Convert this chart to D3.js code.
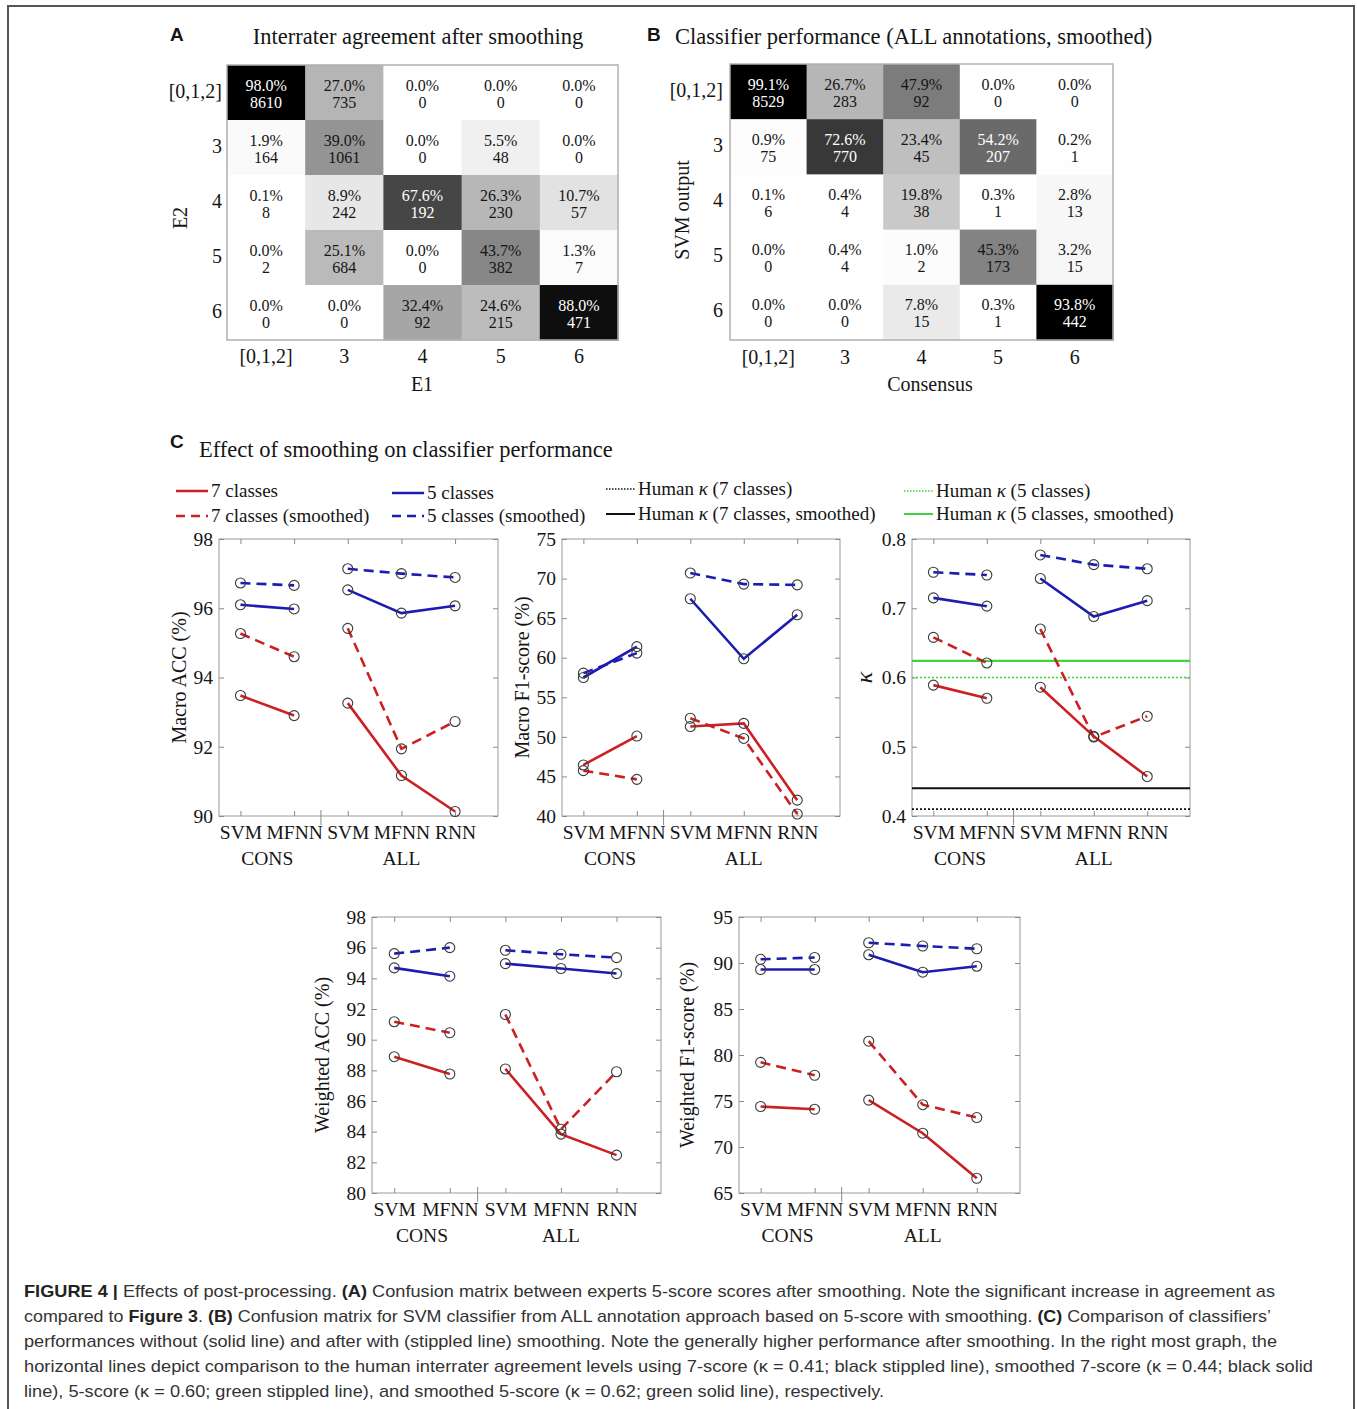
<!DOCTYPE html>
<html><head><meta charset="utf-8">
<script src="https://cdn.jsdelivr.net/npm/d3@7"></script>
<style>
body{margin:0;background:#fff}
svg{display:block}
text{font-family:"Liberation Serif","Times New Roman",serif;fill:#151515}
</style>
</head><body>
<svg id="fig" width="1357" height="1409"></svg>
<script>
// ---------------- DATA ----------------
const matCats = ["[0,1,2]", "3", "4", "5", "6"];
const matAPct = [
  [98.0, 27.0, 0.0, 0.0, 0.0],
  [1.9, 39.0, 0.0, 5.5, 0.0],
  [0.1, 8.9, 67.6, 26.3, 10.7],
  [0.0, 25.1, 0.0, 43.7, 1.3],
  [0.0, 0.0, 32.4, 24.6, 88.0]
];
const matACount = [
  [8610, 735, 0, 0, 0],
  [164, 1061, 0, 48, 0],
  [8, 242, 192, 230, 57],
  [2, 684, 0, 382, 7],
  [0, 0, 92, 215, 471]
];
const matBPct = [
  [99.1, 26.7, 47.9, 0.0, 0.0],
  [0.9, 72.6, 23.4, 54.2, 0.2],
  [0.1, 0.4, 19.8, 0.3, 2.8],
  [0.0, 0.4, 1.0, 45.3, 3.2],
  [0.0, 0.0, 7.8, 0.3, 93.8]
];
const matBCount = [
  [8529, 283, 92, 0, 0],
  [75, 770, 45, 207, 1],
  [6, 4, 38, 1, 13],
  [0, 4, 2, 173, 15],
  [0, 0, 15, 1, 442]
];

const classifiers = ["SVM", "MFNN", "SVM", "MFNN", "RNN"];
const groupNames = ["CONS", "ALL"];
const groupIdx = [[0, 1], [2, 3, 4]];

const macroAcc7  = [93.48, 92.90, 93.26, 91.17, 90.13];
const macroAcc7s = [95.27, 94.60, 95.42, 91.94, 92.73];
const macroAcc5  = [96.10, 95.98, 96.53, 95.86, 96.07];
const macroAcc5s = [96.73, 96.66, 97.14, 97.00, 96.89];
const macroAccTicks = [90, 92, 94, 96, 98];

const macroF1_7  = [46.45, 50.10, 51.30, 51.70, 42.00];
const macroF1_7s = [45.73, 44.63, 52.35, 49.80, 40.25];
const macroF1_5  = [57.50, 61.40, 67.45, 59.86, 65.43];
const macroF1_5s = [58.05, 60.58, 70.70, 69.30, 69.20];
const macroF1Ticks = [40, 45, 50, 55, 60, 65, 70, 75];

const kappa7  = [0.589, 0.570, 0.586, 0.515, 0.457];
const kappa7s = [0.658, 0.621, 0.670, 0.514, 0.544];
const kappa5  = [0.715, 0.703, 0.743, 0.688, 0.711];
const kappa5s = [0.752, 0.748, 0.777, 0.763, 0.757];
const kappaTicks = [0.4, 0.5, 0.6, 0.7, 0.8];
const humanKappa = [0.41, 0.44, 0.60, 0.624]; // 7cl, 7cl smoothed, 5cl, 5cl smoothed

const wAcc7  = [88.89, 87.76, 88.09, 83.84, 82.47];
const wAcc7s = [91.17, 90.45, 91.64, 84.16, 87.91];
const wAcc5  = [94.68, 94.14, 94.96, 94.64, 94.31];
const wAcc5s = [95.61, 96.00, 95.83, 95.57, 95.35];
const wAccTicks = [80, 82, 84, 86, 88, 90, 92, 94, 96, 98];

const wF1_7  = [74.4, 74.1, 75.1, 71.5, 66.6];
const wF1_7s = [79.2, 77.8, 81.5, 74.6, 73.2];
const wF1_5  = [89.29, 89.29, 90.90, 89.00, 89.65];
const wF1_5s = [90.40, 90.60, 92.20, 91.85, 91.55];
const wF1Ticks = [65, 70, 75, 80, 85, 90, 95];

const captionLines = [
  "**FIGURE 4 |** Effects of post-processing. **(A)** Confusion matrix between experts 5-score scores after smoothing. Note the significant increase in agreement as",
  "compared to **Figure 3**. **(B)** Confusion matrix for SVM classifier from ALL annotation approach based on 5-score with smoothing. **(C)** Comparison of classifiers\u2019",
  "performances without (solid line) and after with (stippled line) smoothing. Note the generally higher performance after smoothing. In the right most graph, the",
  "horizontal lines depict comparison to the human interrater agreement levels using 7-score (\u03ba = 0.41; black stippled line), smoothed 7-score (\u03ba = 0.44; black solid",
  "line), 5-score (\u03ba = 0.60; green stippled line), and smoothed 5-score (\u03ba = 0.62; green solid line), respectively."
];

// ---------------- STYLE ----------------
const RED = "#cc2024";
const BLUE = "#1c1cb2";
const GREEN = "#3fd43f";
const SERIF = '"Liberation Serif","Times New Roman",serif';
const SANS = '"Liberation Sans",Arial,Helvetica,sans-serif';

const svg = d3.select("#fig");

// figure frame
svg.append("rect").attr("x", 8).attr("y", 6).attr("width", 1346).attr("height", 1440)
  .attr("fill", "none").attr("stroke", "#555").attr("stroke-width", 2);

function panelLetter(t, x, y) {
  svg.append("text").attr("x", x).attr("y", y).text(t)
    .style("font-family", SANS).style("font-weight", "bold").style("font-size", "19px");
}
function serifText(t, x, y, size, anchor) {
  return svg.append("text").attr("x", x).attr("y", y).text(t)
    .style("font-size", size + "px").attr("text-anchor", anchor || "start");
}

// ---------------- CONFUSION MATRICES ----------------
const shade = d3.scaleLinear().domain([0, 93]).range(["#ffffff", "#000000"]).clamp(true);

function drawMatrix(pct, cnt, x0, x1, y0, y1, rowLabelX, colLabelY, xTitle, xTitlePos, yTitle, yTitlePos) {
  const x = d3.scaleBand().domain(d3.range(5)).range([x0, x1]);
  const y = d3.scaleBand().domain(d3.range(5)).range([y0, y1]);
  const g = svg.append("g");
  const cells = [];
  pct.forEach((row, r) => row.forEach((p, c) => cells.push({ r, c, p, n: cnt[r][c] })));
  g.selectAll("rect.cell").data(cells).join("rect").attr("class", "cell")
    .attr("x", d => x(d.c)).attr("y", d => y(d.r))
    .attr("width", x.bandwidth() + 0.5).attr("height", y.bandwidth() + 0.5)
    .attr("fill", d => shade(d.p));
  g.append("rect").attr("x", x0).attr("y", y0).attr("width", x1 - x0).attr("height", y1 - y0)
    .attr("fill", "none").attr("stroke", "#b0b0b0").attr("stroke-width", 1.5);
  g.selectAll("text.pct").data(cells).join("text").attr("class", "pct")
    .attr("x", d => x(d.c) + x.bandwidth() / 2).attr("y", d => y(d.r) + y.bandwidth() / 2 - 2)
    .attr("text-anchor", "middle").style("font-size", "16px")
    .style("fill", d => d.p > 50 ? "#fff" : "#151515")
    .text(d => d.p.toFixed(1) + "%");
  g.selectAll("text.cnt").data(cells).join("text").attr("class", "cnt")
    .attr("x", d => x(d.c) + x.bandwidth() / 2).attr("y", d => y(d.r) + y.bandwidth() / 2 + 15)
    .attr("text-anchor", "middle").style("font-size", "16px")
    .style("fill", d => d.p > 50 ? "#fff" : "#151515")
    .text(d => d.n);
  g.selectAll("text.rl").data(matCats).join("text").attr("class", "rl")
    .attr("x", rowLabelX).attr("y", (d, i) => y(i) + y.bandwidth() / 2 + 5)
    .attr("text-anchor", "end").style("font-size", "20px").text(d => d);
  g.selectAll("text.cl").data(matCats).join("text").attr("class", "cl")
    .attr("x", (d, i) => x(i) + x.bandwidth() / 2).attr("y", colLabelY)
    .attr("text-anchor", "middle").style("font-size", "20px").text(d => d);
  serifText(xTitle, xTitlePos[0], xTitlePos[1], 20, "middle");
  svg.append("text").attr("transform", `translate(${yTitlePos[0]},${yTitlePos[1]}) rotate(-90)`)
    .attr("text-anchor", "middle").style("font-size", "20px").text(yTitle);
}

panelLetter("A", 170, 41);
serifText("Interrater agreement after smoothing", 418, 44, 22.5, "middle");
drawMatrix(matAPct, matACount, 227, 618, 65, 340, 222, 363, "E1", [422, 391], "E2", [187, 218]);

panelLetter("B", 647, 41);
serifText("Classifier performance (ALL annotations, smoothed)", 675, 44, 22.5, "start");
drawMatrix(matBPct, matBCount, 730, 1113, 64, 340, 723, 364, "Consensus", [930, 391], "SVM output", [689, 210]);

// ---------------- PANEL C ----------------
panelLetter("C", 170, 448);
serifText("Effect of smoothing on classifier performance", 199, 457, 22.5, "start");

// legend
const legendItems = [
  { t: "7 classes", c: RED, dash: null, w: 2.5, x: 176, y: 491 },
  { t: "7 classes (smoothed)", c: RED, dash: "9,6", w: 2.5, x: 176, y: 516 },
  { t: "5 classes", c: BLUE, dash: null, w: 2.5, x: 392, y: 493 },
  { t: "5 classes (smoothed)", c: BLUE, dash: "9,6", w: 2.5, x: 392, y: 516 },
  { t: "Human \u03ba (7 classes)", c: "#111", dash: "1.5,1.5", w: 1.3, x: 606, y: 489 },
  { t: "Human \u03ba (7 classes, smoothed)", c: "#111", dash: null, w: 2, x: 606, y: 514 },
  { t: "Human \u03ba (5 classes)", c: GREEN, dash: "1.5,1.5", w: 1.3, x: 904, y: 491 },
  { t: "Human \u03ba (5 classes, smoothed)", c: GREEN, dash: null, w: 2, x: 904, y: 514 }
];
legendItems.forEach(d => {
  const len = d.x < 600 ? 32 : 29;
  svg.append("line").attr("x1", d.x).attr("x2", d.x + len).attr("y1", d.y).attr("y2", d.y)
    .attr("stroke", d.c).attr("stroke-width", d.w).attr("stroke-dasharray", d.dash);
  const t = svg.append("text").attr("x", d.x + len + 3).attr("y", d.y + 6).style("font-size", "19px");
  const parts = d.t.split("\u03ba");
  t.append("tspan").text(parts[0]);
  if (parts.length > 1) {
    t.append("tspan").style("font-style", "italic").text("\u03ba");
    t.append("tspan").text(parts[1]);
  }
});

function linePlot(box, yDomain, ticks, fmt, yLabel, yLabelX, series, hlines, italicLabel) {
  const x = d3.scaleLinear().domain([0.6, 5.8]).range([box.x0, box.x1]);
  const y = d3.scaleLinear().domain(yDomain).range([box.y1, box.y0]);
  const g = svg.append("g");
  const styleAxis = sel => {
    sel.select(".domain").remove();
    sel.selectAll(".tick line").attr("stroke", "#8a8a8a");
    sel.selectAll(".tick text").style("font-family", SERIF).style("font-size", "19.5px").style("fill", "#151515");
  };
  g.append("rect").attr("x", box.x0).attr("y", box.y0).attr("width", box.x1 - box.x0).attr("height", box.y1 - box.y0)
    .attr("fill", "none").attr("stroke", "#9a9a9a").attr("stroke-width", 1);
  g.append("g").attr("transform", `translate(0,${box.y1})`)
    .call(d3.axisBottom(x).tickValues([1, 2, 3, 4, 5]).tickSize(-5).tickPadding(9).tickFormat((d, i) => classifiers[i]))
    .call(styleAxis);
  g.append("g").attr("transform", `translate(0,${box.y0})`)
    .call(d3.axisTop(x).tickValues([1, 2, 3, 4, 5]).tickSize(-5).tickFormat(""))
    .call(styleAxis);
  g.append("g").attr("transform", `translate(${box.x0},0)`)
    .call(d3.axisLeft(y).tickValues(ticks).tickSize(-5).tickPadding(6).tickFormat(fmt))
    .call(styleAxis);
  g.append("g").attr("transform", `translate(${box.x1},0)`)
    .call(d3.axisRight(y).tickValues(ticks).tickSize(-5).tickFormat(""))
    .call(styleAxis);
  // group separator
  g.append("line").attr("x1", x(2.5)).attr("x2", x(2.5)).attr("y1", box.y1 - 6).attr("y2", box.y1 + 9)
    .attr("stroke", "#8a8a8a").attr("stroke-width", 1);
  // group labels
  g.append("text").attr("x", x(1.5)).attr("y", box.y1 + 49).attr("text-anchor", "middle")
    .style("font-size", "19.5px").text(groupNames[0]);
  g.append("text").attr("x", x(4)).attr("y", box.y1 + 49).attr("text-anchor", "middle")
    .style("font-size", "19.5px").text(groupNames[1]);
  // y label
  const yl = g.append("text").attr("transform", `translate(${yLabelX},${(box.y0 + box.y1) / 2}) rotate(-90)`)
    .attr("text-anchor", "middle").attr("dominant-baseline", "middle").style("font-size", "20px").text(yLabel);
  if (italicLabel) yl.style("font-style", "italic").style("font-size", "24px");
  // horizontal lines
  (hlines || []).forEach(h => {
    g.append("line").attr("x1", box.x0).attr("x2", box.x1).attr("y1", y(h.v)).attr("y2", y(h.v))
      .attr("stroke", h.c).attr("stroke-width", h.w).attr("stroke-dasharray", h.dash);
  });
  // series lines
  const line = d3.line().x(d => x(d.i + 1)).y(d => y(d.v));
  series.forEach(s => {
    groupIdx.forEach(idx => {
      g.append("path").datum(idx.map(i => ({ i, v: s.values[i] })))
        .attr("d", line).attr("fill", "none").attr("stroke", s.c).attr("stroke-width", 2.6)
        .attr("stroke-dasharray", s.dash);
    });
  });
  series.forEach(s => {
    g.selectAll(null).data(s.values.map((v, i) => ({ v, i }))).join("circle")
      .attr("cx", d => x(d.i + 1)).attr("cy", d => y(d.v)).attr("r", 5)
      .attr("fill", "none").attr("stroke", "#3a3a3a").attr("stroke-width", 1.1);
  });
}

const mk = (a, b, c, d) => [
  { values: a, c: RED, dash: null },
  { values: b, c: RED, dash: "10,6" },
  { values: c, c: BLUE, dash: null },
  { values: d, c: BLUE, dash: "10,6" }
];
const fmtInt = d3.format("d");
const fmtK = d3.format(".1f");

linePlot({ x0: 219, x1: 498, y0: 539, y1: 816 }, [90, 98], macroAccTicks, fmtInt, "Macro ACC (%)", 181,
  mk(macroAcc7, macroAcc7s, macroAcc5, macroAcc5s));
linePlot({ x0: 562, x1: 840, y0: 539, y1: 816 }, [40, 75], macroF1Ticks, fmtInt, "Macro F1-score (%)", 524,
  mk(macroF1_7, macroF1_7s, macroF1_5, macroF1_5s));
linePlot({ x0: 912, x1: 1190, y0: 539, y1: 816 }, [0.4, 0.8], kappaTicks, fmtK, "\u03ba", 866,
  mk(kappa7, kappa7s, kappa5, kappa5s),
  [
    { v: humanKappa[0], c: "#111", w: 1.6, dash: "2,2" },
    { v: humanKappa[1], c: "#111", w: 2, dash: null },
    { v: humanKappa[2], c: GREEN, w: 1.6, dash: "2,2" },
    { v: humanKappa[3], c: GREEN, w: 2.2, dash: null }
  ], true);
linePlot({ x0: 372, x1: 661, y0: 917, y1: 1193 }, [80, 98], wAccTicks, fmtInt, "Weighted ACC (%)", 324,
  mk(wAcc7, wAcc7s, wAcc5, wAcc5s));
linePlot({ x0: 739, x1: 1020, y0: 917, y1: 1193 }, [65, 95], wF1Ticks, fmtInt, "Weighted F1-score (%)", 689,
  mk(wF1_7, wF1_7s, wF1_5, wF1_5s));

// ---------------- CAPTION ----------------
const capEnds = [1275, 1271, 1277, 1313, 884];
captionLines.forEach((ln, i) => {
  const t = svg.append("text").attr("x", 24).attr("y", 1297 + i * 25)
    .style("font-family", SANS).style("font-size", "17px").style("fill", "#333");
  ln.split("**").forEach((part, k) => {
    if (!part) return;
    t.append("tspan").text(part).style("font-weight", k % 2 === 1 ? "bold" : "normal")
      .style("fill", k % 2 === 1 ? "#222" : "#333");
  });
  const w = t.node().getComputedTextLength();
  const target = capEnds[i] - 24;
  if (Math.abs(w - target) > 3) t.attr("textLength", target).attr("lengthAdjust", "spacingAndGlyphs");
});
</script>
</body></html>
